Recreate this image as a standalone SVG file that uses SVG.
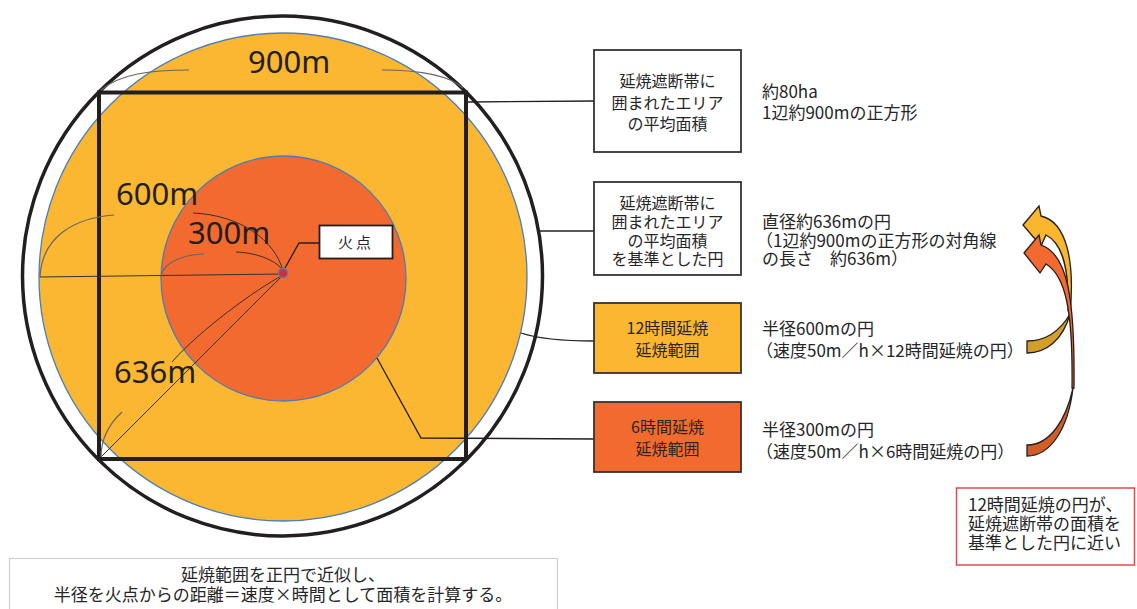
<svg xmlns="http://www.w3.org/2000/svg" width="1137" height="609" viewBox="0 0 1137 609">
<style>
.cj{font-family:'Noto Sans CJK JP','Noto Sans CJK SC',sans-serif;fill:#262626}
.b16{font-size:16px;text-anchor:middle}
.r17{font-size:17px}
.big{font-family:'Noto Sans','Open Sans',sans-serif;font-size:31px;fill:#231f20}
.box{stroke:#333;stroke-width:1.8}
.dim{fill:none;stroke:#333;stroke-width:1}
.dimg{fill:none;stroke:#666;stroke-width:1.2}
.conn{fill:none;stroke:#231f20;stroke-width:1.3}
.arr{stroke:#231f20;stroke-width:1.3;stroke-linejoin:miter}
</style>
<rect width="1137" height="609" fill="#fff"/>

<g id="circle-12h">
<circle cx="283" cy="277" r="244" fill="#FBB731" stroke="#4A7EBB" stroke-width="1.3"/>
</g>
<g id="circle-6h">
<circle cx="283.5" cy="278.5" r="122.5" fill="#F26A30" stroke="#4A7EBB" stroke-width="1.3"/>
</g>
<g id="outer-circle">
<circle cx="282.5" cy="276" r="260" fill="none" stroke="#231f20" stroke-width="3.5"/>
</g>
<g id="square">
<rect x="99" y="92.5" width="367" height="366.5" fill="none" stroke="#231f20" stroke-width="4"/>
</g>

<g id="dimensions">
<path class="dimg" d="M101,90 C120,74 150,70 189,70"/>
<path class="dimg" d="M382,70 C420,70 450,76 463,88"/>
<path class="dimg" d="M114,215 C75,218 42,236 40,277"/>
<path class="dim" d="M40,277 L282,274"/>
<path class="dim" d="M193,213 C240,215 275,240 283,271"/>
<path class="dimg" d="M204,254 C180,255 162,264 161,277"/>
<path class="dim" d="M236,252 C260,253 278,262 283,271"/>
<path class="dim" d="M283,275 C255,290 200,330 172,362"/>
<path class="dim" d="M283,275 L101,457"/>
<path class="dimg" d="M122,412 C108,425 101,440 101,457"/>
<text class="big" x="248" y="73">900m</text>
<text class="big" x="116" y="205">600m</text>
<text class="big" x="188" y="244">300m</text>
<text class="big" x="114" y="383">636m</text>
</g>

<g id="connectors">
<path class="conn" d="M285,268 L299,243 L319,243"/>
<path class="conn" d="M468,102 L594,101"/>
<path class="conn" d="M538,231 L594,231"/>
<path class="conn" d="M521,333 Q545,341 594,341"/>
<path class="conn" d="M377,358 L421,438 L594,439"/>
</g>

<g id="fire-point">
<circle cx="283" cy="273" r="4.5" fill="#E2262B" stroke="#4A7EBB" stroke-width="1.5"/>
<rect x="319.5" y="225.5" width="73" height="33" fill="#fff" stroke="#231f20" stroke-width="1.8"/>
<text class="cj" x="356" y="248" font-size="15" text-anchor="middle" letter-spacing="3">火点</text>
</g>

<g id="box-area">
<rect class="box" x="594" y="50" width="147" height="102" fill="#fff"/>
<text class="cj b16" x="667.5" y="87">延焼遮断帯に</text>
<text class="cj b16" x="667.5" y="109">囲まれたエリア</text>
<text class="cj b16" x="667.5" y="130">の平均面積</text>
<text class="cj r17" x="762" y="98">約80ha</text>
<text class="cj r17" x="762" y="119">1辺約900mの正方形</text>
</g>

<g id="box-circle">
<rect class="box" x="594" y="182" width="147" height="93" fill="#fff"/>
<text class="cj b16" x="667.5" y="209">延焼遮断帯に</text>
<text class="cj b16" x="667.5" y="228">囲まれたエリア</text>
<text class="cj b16" x="667.5" y="247">の平均面積</text>
<text class="cj b16" x="667.5" y="265">を基準とした円</text>
<text class="cj r17" x="762" y="228">直径約636mの円</text>
<text class="cj r17" x="756" y="247">（1辺約900mの正方形の対角線</text>
<text class="cj r17" x="762" y="265">の長さ　約636m）</text>
</g>

<g id="box-12h">
<rect class="box" x="594" y="303" width="147" height="70" fill="#FBB731"/>
<text class="cj b16" x="667.5" y="334">12時間延焼</text>
<text class="cj b16" x="667.5" y="356">延焼範囲</text>
<text class="cj r17" x="762" y="335">半径600mの円</text>
<text class="cj r17" x="756" y="357">（速度50m／h×12時間延焼の円）</text>
</g>

<g id="box-6h">
<rect class="box" x="594" y="402" width="147" height="70" fill="#F26A30"/>
<text class="cj b16" x="667.5" y="433">6時間延焼</text>
<text class="cj b16" x="667.5" y="455">延焼範囲</text>
<text class="cj r17" x="762" y="436">半径300mの円</text>
<text class="cj r17" x="756" y="458">（速度50m／h×6時間延焼の円）</text>
</g>

<g id="arrow-12h">
<path class="arr" fill="#D39E2A" d="M1027,341 L1027,353 C1046,353 1063,340 1070,314 C1060,331 1045,341 1027,341 Z"/>
<path class="arr" fill="#FBB62F" d="M1023,225 L1039,206 L1041,216 C1067,222 1075,262 1070,314 L1068,310 C1069,272 1064,244 1046,235 L1041,246 Z"/>
</g>
<g id="arrow-6h">
<path class="arr" fill="#D15E29" d="M1027,445 L1027,456 C1050,456 1068,430 1073,388 C1066,420 1050,445 1027,445 Z"/>
<path class="arr" fill="#F26A2F" d="M1024,253 L1039,235 L1041,245 C1068,254 1075,300 1074,388 L1072,388 C1073,312 1066,276 1046,264 L1040,273 Z"/>
</g>

<g id="note-box">
<rect x="956.5" y="488" width="178" height="77" fill="#fff" stroke="#E8474E" stroke-width="1.5"/>
<text class="cj r17" x="968" y="511">12時間延焼の円が、</text>
<text class="cj r17" x="968" y="530">延焼遮断帯の面積を</text>
<text class="cj r17" x="968" y="549">基準とした円に近い</text>
</g>

<g id="caption-box">
<rect x="9.5" y="558.5" width="548" height="60" fill="#fff" stroke="#cfcfcf" stroke-width="1.2"/>
<text class="cj" x="283" y="581" font-size="17" text-anchor="middle">延焼範囲を正円で近似し、</text>
<text class="cj" x="283" y="601" font-size="17" text-anchor="middle">半径を火点からの距離＝速度×時間として面積を計算する。</text>
</g>
</svg>
